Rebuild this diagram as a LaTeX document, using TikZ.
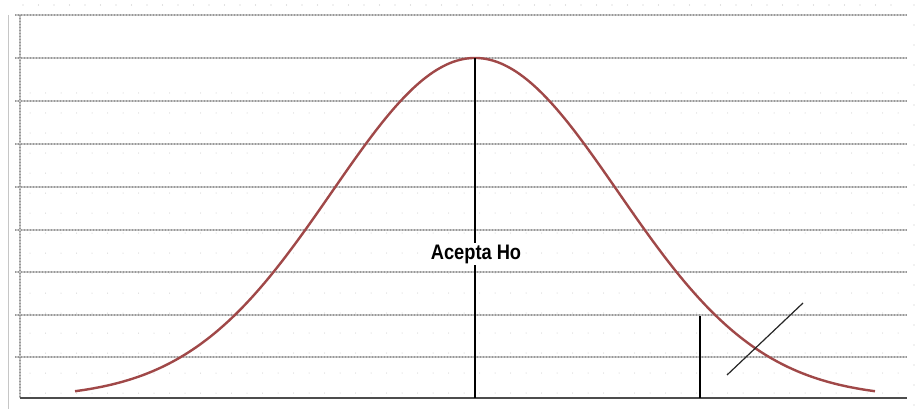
\documentclass[tikz,border=0pt]{standalone}
\usepackage{fontspec}
\setmainfont{Liberation Sans}
\begin{document}
\begin{tikzpicture}[x=1pt,y=-1pt,
  gridln/.style={draw=gray!45, line width=2.6pt},
  griddots/.style={draw=gray!80, line width=1.2pt, dash pattern=on 1.2pt off 1.8pt},
  axisln/.style={draw=black!70, line width=2.6pt},
  faintdot/.style={fill=gray!45},
  curveln/.style={draw={rgb,255:red,160;green,72;blue,72}, line width=2.4pt},
  mark line/.style={draw=black, line width=1.7pt},
  lbl/.style={fill=white, inner sep=2pt, font=\bfseries\fontsize{21}{21}\selectfont}]
\useasboundingbox[fill=white] (0,0) rectangle (917,409);
% outer frame lines
\draw[gray!45, line width=1pt] (8,15) -- (8,409);
\foreach \yy in {5,25,...,405} \fill[faintdot] (914,\yy) circle (0.6);
% faint dots
\foreach \xx in {23,38.5,...,905} {
  \fill[faintdot] (\xx,5) circle (0.6);
}
\foreach \yy in {93,113,...,393} {
  \foreach \xx in {30,45.5,...,905} \fill[faintdot] (\xx,\yy) circle (0.5);
}
% gridlines
\foreach \yy in {15,58,101,144,187,230,272,315,357} {
  \draw[gridln] (15,\yy) -- (907,\yy);
  \draw[griddots] (15,\yy) -- (907,\yy);
}
\draw[gridln] (20,15) -- (20,398);
\draw[griddots] (20,15) -- (20,398);
\draw[axisln] (20,398) -- (907,398);
% curve
\draw[curveln] plot[domain=75:875, samples=240, smooth] (\x,{398-340*exp(-((\x-475)/143)^2/2)});
% named points
\coordinate (peak) at (475,58);
\coordinate (base) at (475,398);
\coordinate (crit) at (700,316);
\coordinate (critbase) at (700,398);
\coordinate (d1) at (727,375);
\coordinate (d2) at (803,303);
\draw[mark line] (peak) -- (base);
\node[lbl] (acc) at (476,254) {\scalebox{0.87}[1]{Acepta Ho}};
\draw[mark line] (crit) -- (critbase);
\draw[draw=black!85, line width=1.2pt] (d1) -- (d2);
\end{tikzpicture}
\end{document}
